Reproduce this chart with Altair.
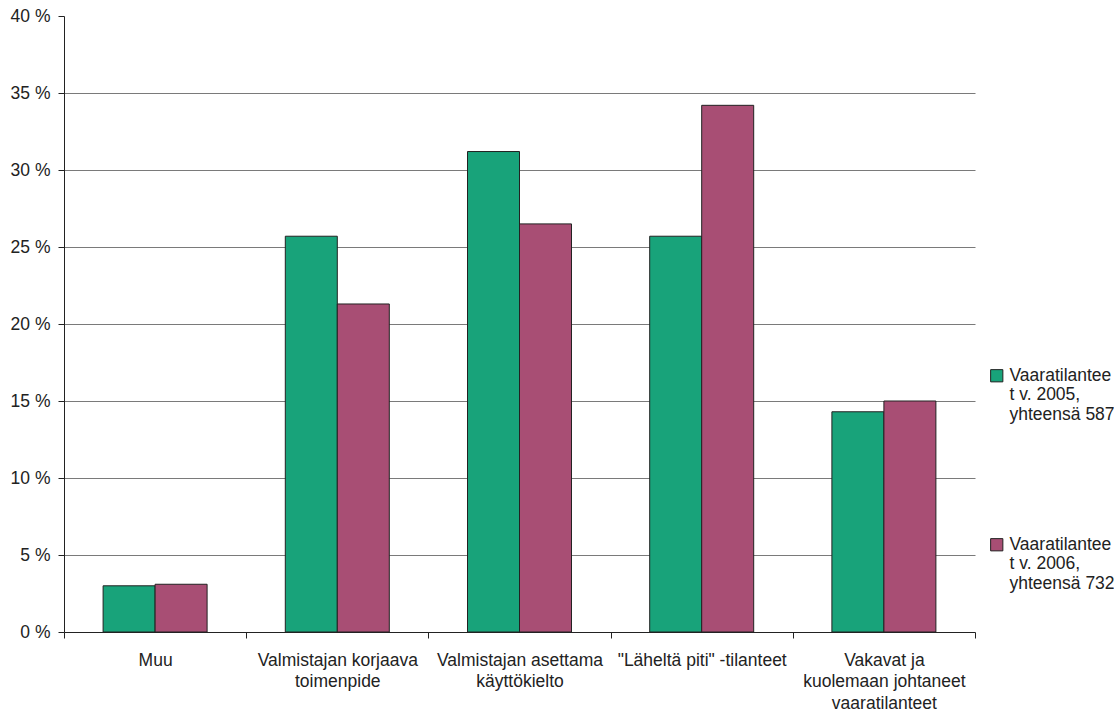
import altair as alt
import pandas as pd

# Categories (multi-line labels joined with "\n")
categories = [
    "Muu",
    "Valmistajan korjaava\ntoimenpide",
    "Valmistajan asettama\nkäyttökielto",
    "\"Läheltä piti\" -tilanteet",
    "Vakavat ja\nkuolemaan johtaneet\nvaaratilanteet",
]
series = [
    "Vaaratilantee\nt v. 2005,\nyhteensä 587",
    "Vaaratilantee\nt v. 2006,\nyhteensä 732",
]
values_2005 = [3.0, 25.7, 31.2, 25.7, 14.3]
values_2006 = [3.1, 21.3, 26.5, 34.2, 15.0]
colors = ["#18a37a", "#a84e74"]
y_ticks = [0, 5, 10, 15, 20, 25, 30, 35, 40]

rows = []
for cat, v in zip(categories, values_2005):
    rows.append({"kategoria": cat, "sarja": series[0], "osuus": v})
for cat, v in zip(categories, values_2006):
    rows.append({"kategoria": cat, "sarja": series[1], "osuus": v})
df = pd.DataFrame(rows)

FONT = "Liberation Sans"

bars = alt.Chart(df).mark_bar(stroke="#222222", strokeWidth=1).encode(
    x=alt.X(
        "kategoria:N",
        sort=categories,
        scale=alt.Scale(paddingInner=0, paddingOuter=0),
        axis=alt.Axis(
            title=None,
            labelAngle=0,
            labelExpr="split(datum.label, '\\n')",
            labelFont=FONT,
            labelFontSize=17.5,
            labelColor="#222222",
            labelPadding=13,
            labelLineHeight=21.5,
            labelBaseline="top",
            tickBand="extent",
            tickColor="#222222",
            tickSize=6,
            domainColor="#222222",
            grid=False,
        ),
    ),
    xOffset=alt.XOffset(
        "sarja:N",
        sort=series,
        scale=alt.Scale(paddingInner=0, paddingOuter=0.752),
    ),
    y=alt.Y(
        "osuus:Q",
        scale=alt.Scale(domain=[0, 40], nice=False),
        axis=alt.Axis(
            title=None,
            values=y_ticks,
            labelExpr="datum.value + ' %'",
            labelFont=FONT,
            labelFontSize=17.5,
            labelColor="#222222",
            labelPadding=8,
            tickColor="#222222",
            tickSize=6,
            domainColor="#222222",
            grid=True,
            gridColor={
                "condition": {"test": "datum.value >= 40 || datum.value <= 0", "value": "transparent"},
                "value": "#7a7a7a",
            },
            gridWidth=1.2,
        ),
    ),
    color=alt.Color(
        "sarja:N",
        sort=series,
        scale=alt.Scale(domain=series, range=colors),
        legend=alt.Legend(
            title=None,
            orient="none",
            legendX=924,
            legendY=351,
            symbolType="square",
            symbolSize=150,
            symbolStrokeColor="#222222",
            symbolStrokeWidth=1,
            symbolOpacity=1,
            labelExpr="split(datum.label, '\\n')",
            labelFont=FONT,
            labelFontSize=17.5,
            labelColor="#222222",
            labelBaseline="middle",
            labelOffset=4,
            labelLimit=200,
            rowPadding=111,
        ),
    ),
)

chart = bars.properties(
    width=911,
    height=616,
    padding={"left": 64, "top": 16, "right": 139, "bottom": 81},
    autosize=alt.AutoSizeParams(type="none"),
    background="white",
).configure_view(stroke=None)

chart.save("out.html", embed_options={"renderer": "svg", "actions": False})
